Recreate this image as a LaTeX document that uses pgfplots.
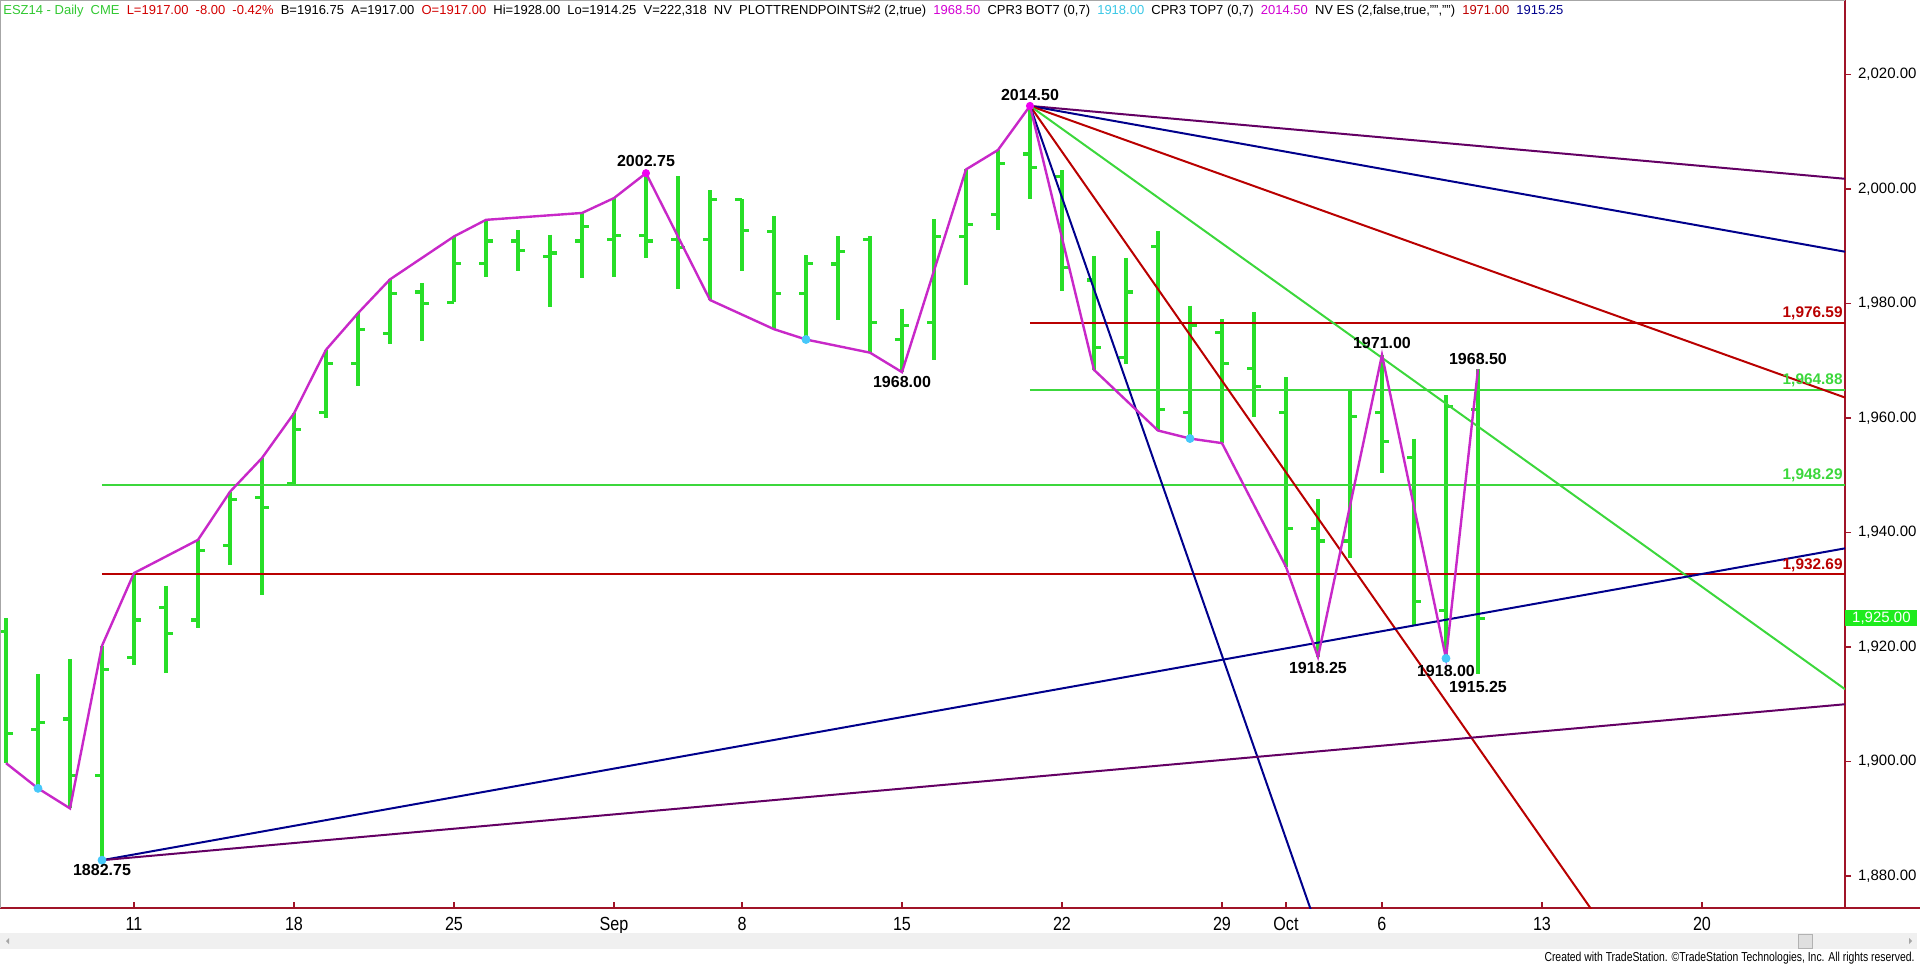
\documentclass[border=0pt]{standalone}
\usepackage{fontspec}
\setmainfont{Liberation Sans}
\newfontfamily\narrowfont[FakeStretch=0.8]{Liberation Sans}
\newfontfamily\ticknarrow[FakeStretch=0.85]{Liberation Sans}
\usepackage{graphicx}
\usepackage{pgfplots}
\usepackage{pgfplotstable}
\pgfplotsset{compat=1.18}

\definecolor{bargreen}{RGB}{40,222,40}
\definecolor{lgreen}{RGB}{60,215,60}
\definecolor{swing}{RGB}{200,40,200}
\definecolor{dred}{RGB}{185,0,0}
\definecolor{navy}{RGB}{0,0,140}
\definecolor{dpurple}{RGB}{100,0,100}
\definecolor{axred}{RGB}{160,20,40}
\definecolor{cyandot}{RGB}{70,200,250}
\definecolor{magdot}{RGB}{240,0,240}
\definecolor{hdrgreen}{RGB}{50,200,50}
\definecolor{hdrred}{RGB}{210,0,0}
\definecolor{hdrmag}{RGB}{210,0,210}
\definecolor{hdrcyan}{RGB}{60,200,230}
\definecolor{hdrdred}{RGB}{190,0,0}
\definecolor{boxgreen}{RGB}{30,235,30}

\pgfplotstableread{
i O H L C
-4 1922.7 1925.0 1899.7 1904.9
-3 1905.6 1915.2 1895.3 1906.8
-2 1907.4 1917.9 1891.8 1897.5
-1 1897.6 1920.2 1882.75 1916.0
0 1918.2 1932.9 1916.8 1924.7
1 1926.9 1930.7 1915.4 1922.4
2 1924.7 1938.7 1923.3 1936.8
3 1937.7 1947.1 1934.3 1945.7
4 1946.1 1953.0 1929.1 1944.4
5 1948.5 1960.8 1948.3 1958.0
6 1961.0 1971.9 1960.0 1969.5
7 1969.5 1978.3 1965.5 1975.5
8 1974.8 1984.2 1972.9 1981.8
9 1982.0 1983.6 1973.5 1980.0
10 1980.2 1991.7 1980.2 1987.0
11 1987.0 1994.6 1984.6 1990.9
12 1990.9 1992.8 1985.6 1989.3
13 1988.2 1992.0 1979.3 1988.8
14 1990.9 1995.8 1984.4 1993.5
15 1991.1 1998.4 1984.6 1991.8
16 1991.8 2002.75 1988.0 1990.9
17 1991.1 2002.2 1982.6 1989.8
18 1991.2 1999.8 1980.6 1998.1
19 1998.2 1998.2 1985.7 1992.7
20 1992.5 1995.2 1975.5 1981.8
21 1981.8 1988.4 1973.7 1987.0
22 1986.9 1991.7 1977.1 1989.0
23 1991.2 1991.7 1971.4 1976.6
24 1973.7 1979.1 1968.0 1976.1
25 1976.6 1994.7 1970.1 1991.7
26 1991.7 2003.4 1983.2 1993.8
27 1995.6 2006.8 1992.8 2004.5
28 2006.1 2014.5 1998.2 2003.7
29 2002.2 2003.3 1982.2 1986.3
30 1984.1 1988.3 1968.4 1972.3
31 1970.5 1988.0 1969.5 1982.0
32 1990.0 1992.6 1957.8 1961.5
33 1961.0 1979.6 1956.4 1976.1
34 1974.9 1977.2 1955.6 1969.5
35 1968.7 1978.5 1960.2 1965.5
36 1961.0 1967.1 1934.0 1940.7
37 1940.7 1945.8 1918.25 1938.5
38 1938.5 1964.9 1935.5 1960.2
39 1961.0 1971.0 1950.3 1955.9
40 1953.1 1956.4 1923.8 1927.9
41 1926.3 1964.0 1918.0 1962.0
42 1961.5 1968.5 1915.25 1925.0
}\bars

\begin{document}
\begin{tikzpicture}
\useasboundingbox (0,-28pt) rectangle (960pt,454pt);
\begin{axis}[
  at={(0,0)}, anchor=south west,
  scale only axis, width=922.5pt, height=454pt,
  xmin=-4.1875, xmax=53.47, ymin=1874.4, ymax=2033.0,
  axis x line*=bottom, axis y line*=right,
  axis line style={axred, line width=1pt},
  clip mode=individual,
  tick align=outside,
  major tick length=3pt,
  xtick={0,5,10,15,19,24,29,34,36,39,44,49},
  xticklabels={11,18,25,Sep,8,15,22,29,Oct,6,13,20},
  x tick style={axred, line width=0.6pt, yshift=3pt},
  y tick style={axred, line width=0.6pt},
  ytick={1880,1900,...,2020},
  yticklabel pos=right,
  xticklabel style={font=\ticknarrow\fontsize{9.5}{10}\selectfont, text=black, anchor=north, yshift=2pt},
  yticklabel style={font=\fontsize{7.5}{8}\selectfont, text=black, anchor=west, xshift=0pt},
  /pgf/number format/.cd, fixed, fixed zerofill, precision=2, 1000 sep={,}, assume math mode=true,
]
% OHLC bars: high-low ranges, open ticks (left), close ticks (right)
\addplot[draw=none, mark=none, forget plot, error bars/.cd, y dir=minus, y explicit, error mark=none,
  error bar style={draw=bargreen, line width=1.8pt}]
  table[x=i, y=H, y error expr=\thisrow{H}-\thisrow{L}] {\bars};
\addplot[draw=none, mark=none, forget plot, error bars/.cd, x dir=minus, x fixed=0.22, error mark=none,
  error bar style={draw=bargreen, line width=1.6pt}]
  table[x=i, y=O] {\bars};
\addplot[draw=none, mark=none, forget plot, error bars/.cd, x dir=plus, x fixed=0.22, error mark=none,
  error bar style={draw=bargreen, line width=1.6pt}]
  table[x=i, y=C] {\bars};

% horizontal levels
\addplot[dred, line width=1pt] coordinates {(28,1976.59) (53.47,1976.59)};
\addplot[lgreen, line width=1pt] coordinates {(28,1964.88) (53.47,1964.88)};
\addplot[lgreen, line width=1pt] coordinates {(-1,1948.29) (53.47,1948.29)};
\addplot[dred, line width=1pt] coordinates {(-1,1932.69) (53.47,1932.69)};

% fan lines from the high
\addplot[dpurple, line width=1pt] coordinates {(28,2014.5) (53.47,2001.77)};
\addplot[navy, line width=1pt] coordinates {(28,2014.5) (53.47,1989.03)};
\addplot[dred, line width=1pt] coordinates {(28,2014.5) (53.47,1963.56)};
\addplot[lgreen, line width=1pt] coordinates {(28,2014.5) (53.47,1912.62)};
\addplot[dred, line width=1pt] coordinates {(28,2014.5) (46,1870.5)};
\addplot[navy, line width=1pt] coordinates {(28,2014.5) (37,1870.5)};
% fan lines from the low
\addplot[navy, line width=1pt] coordinates {(-1,1882.75) (53.47,1937.22)};
\addplot[dpurple, line width=1pt] coordinates {(-1,1882.75) (53.47,1909.99)};

% swing line
\addplot[swing, line width=1.2pt] coordinates {
(-4,1899.7) (-3,1895.3) (-2,1891.8) (-1,1920.2) (0,1932.9) (2,1938.7) (3,1947.1)
(4,1953.0) (5,1960.8) (6,1971.9) (7,1978.3) (8,1984.2) (10,1991.7) (11,1994.6)
(14,1995.8) (15,1998.4) (16,2002.75) (18,1980.6) (20,1975.5) (21,1973.7) (23,1971.4)
(24,1968.0) (26,2003.4) (27,2006.8) (28,2014.5) (30,1968.4) (32,1957.8) (33,1956.4)
(34,1955.6) (36,1934.0) (37,1918.25) (39,1971.0) (41,1918.0) (42,1968.5)};

% pivot dots
\addplot[only marks, mark=*, mark size=2pt, cyandot, mark options={draw=cyandot, fill=cyandot}]
  coordinates {(-3,1895.3) (-1,1882.75) (21,1973.7) (33,1956.4) (41,1918.0)};
\addplot[only marks, mark=*, mark size=1.8pt, magdot, mark options={draw=magdot, fill=magdot}]
  coordinates {(16,2002.75) (28,2014.5)};

% pivot labels
\tikzset{pl/.style={font=\bfseries\fontsize{8}{9}\selectfont, inner sep=0pt, text=black}}
\node[pl, anchor=south, yshift=3pt] at (axis cs:16,2002.75) {2002.75};
\node[pl, anchor=south, yshift=2.4pt] at (axis cs:28,2014.5) {2014.50};
\node[pl, anchor=north, yshift=-2.1pt] at (axis cs:24,1968.0) {1968.00};
\node[pl, anchor=north, yshift=-2.1pt] at (axis cs:-1,1882.75) {1882.75};
\node[pl, anchor=north, yshift=-2.3pt] at (axis cs:37,1918.25) {1918.25};
\node[pl, anchor=south, yshift=3.1pt] at (axis cs:39,1971.0) {1971.00};
\node[pl, anchor=north, yshift=-3.4pt] at (axis cs:41,1918.0) {1918.00};
\node[pl, anchor=north, yshift=-3.4pt] at (axis cs:42,1915.25) {1915.25};
\node[pl, anchor=south, yshift=2pt] at (axis cs:42,1968.5) {1968.50};

% level labels
\tikzset{ll/.style={font=\bfseries\fontsize{7.7}{9}\selectfont, inner sep=0pt, anchor=south east, xshift=-1pt, yshift=1.2pt}}
\node[ll, text=dred] at (axis cs:53.47,1976.59) {1,976.59};
\node[ll, text=lgreen] at (axis cs:53.47,1964.88) {1,964.88};
\node[ll, text=lgreen] at (axis cs:53.47,1948.29) {1,948.29};
\node[ll, text=dred] at (axis cs:53.47,1932.69) {1,932.69};

% last price box
\node[fill=boxgreen, text=white, anchor=west, inner sep=0pt, minimum width=36pt, minimum height=8pt,
  font=\fontsize{7.5}{8}\selectfont] at (axis cs:53.47,1925) {1,925.00};
\end{axis}

% frame pieces
\draw[gray!70, line width=0.75pt] (0,0) -- (0,454pt) -- (922.5pt,454pt);
\draw[axred, line width=1pt] (922.5pt,0) -- (960pt,0);

% header
\newcommand\gap{\hspace{0.55em}}
\node[anchor=base west, inner sep=0pt] at (1.5pt,446.5pt) {\resizebox{780pt}{!}{\fontsize{7}{8}\selectfont
\textcolor{hdrgreen}{ESZ14 - Daily\gap CME}\gap
\textcolor{hdrred}{L=1917.00\gap -8.00\gap -0.42\%}\gap
B=1916.75\gap A=1917.00\gap
\textcolor{hdrred}{O=1917.00}\gap
Hi=1928.00\gap Lo=1914.25\gap V=222,318\gap NV\gap PLOTTRENDPOINTS\#2 (2,true)\gap
\textcolor{hdrmag}{1968.50}\gap CPR3 BOT7 (0,7)\gap
\textcolor{hdrcyan}{1918.00}\gap CPR3 TOP7 (0,7)\gap
\textcolor{hdrmag}{2014.50}\gap NV ES (2,false,true,"","")\gap
\textcolor{hdrdred}{1971.00}\gap
\textcolor{navy}{1915.25}}};

% scrollbar
\fill[gray!12] (0,-12.5pt) rectangle (958.5pt,-20.5pt);
\draw[gray!60, fill=gray!25] (899pt,-13pt) rectangle (906pt,-20pt);
\fill[gray!70] (3pt,-16.5pt) -- (4.5pt,-15pt) -- (4.5pt,-18pt) -- cycle;
\fill[gray!70] (956pt,-16.5pt) -- (954.5pt,-15pt) -- (954.5pt,-18pt) -- cycle;

% credit
\node[anchor=east, inner sep=0pt, font=\narrowfont\fontsize{6.5}{7}\selectfont] at (957.5pt,-25pt)
  {Created with TradeStation. \textcopyright TradeStation Technologies, Inc. All rights reserved.};
\end{tikzpicture}
\end{document}
